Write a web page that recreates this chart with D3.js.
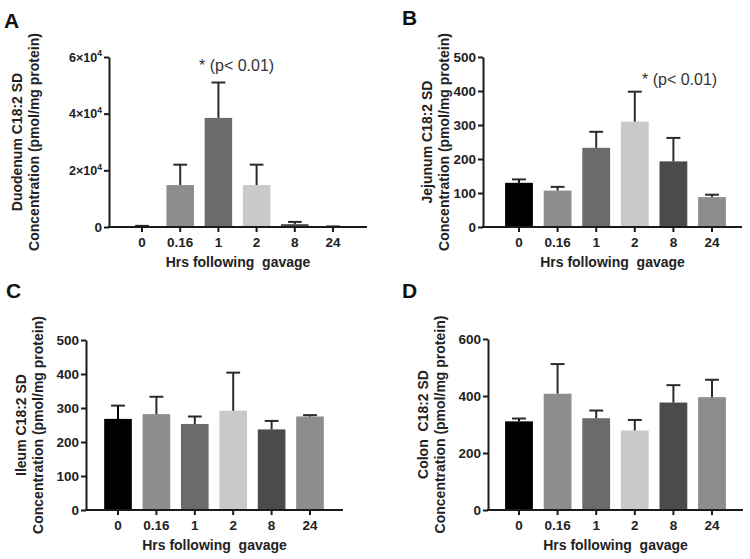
<!DOCTYPE html>
<html>
<head>
<meta charset="utf-8">
<script src="https://cdn.jsdelivr.net/npm/d3@7"></script>
<style>
  html, body { margin: 0; padding: 0; background: #fff; }
  svg { display: block; font-family: "Liberation Sans", Arial, sans-serif; }
</style>
</head>
<body>
<svg id="chart" width="750" height="559"></svg>
<script>
// ---------- data ----------
const categories = ["0", "0.16", "1", "2", "8", "24"];
const barColors = ["#000000", "#8d8d8d", "#6b6b6b", "#c9c9c9", "#4b4b4b", "#8d8d8d"];

const duodenumMean = [300, 14800, 38500, 14800, 1000, 150];
const duodenumSD   = [100, 7200, 12500, 7200, 800, 50];

const jejunumMean = [130, 107, 233, 310, 193, 88];
const jejunumSD   = [10, 11, 47, 88, 69, 7];

const ileumMean = [268, 282, 253, 292, 237, 275];
const ileumSD   = [39, 51, 22, 112, 25, 4];

const colonMean = [311, 408, 322, 279, 377, 396];
const colonSD   = [10, 104, 27, 37, 61, 61];

const duodenumTicks = [0, 20000, 40000, 60000];
const jejunumTicks = [0, 100, 200, 300, 400, 500];
const ileumTicks = [0, 100, 200, 300, 400, 500];
const colonTicks = [0, 200, 400, 600];

const xTitle = "Hrs following  gavage";
const sigText = "* (p< 0.01)";

// ---------- layout ----------
const panels = [
  { letter: "A", lx: 4, ly: 28, mean: duodenumMean, sd: duodenumSD, ticks: duodenumTicks, max: 60000, sci: true,
    x0: 109, x1: 367, yTop: 57, yBot: 227, c0: 142, c5: 333,
    lab1: "Duodenum C18:2 SD", lab2: "Concentration (pmol/mg protein)", lb1: 22, lb2: 39,
    sig: true, sigX: 199, sigY: 71 },
  { letter: "B", lx: 402, ly: 25, mean: jejunumMean, sd: jejunumSD, ticks: jejunumTicks, max: 500,
    x0: 483, x1: 742, yTop: 57, yBot: 227, c0: 519, c5: 712,
    lab1: "Jejunum C18:2 SD", lab2: "Concentration (pmol/mg protein)", lb1: 432, lb2: 449,
    sig: true, sigX: 642, sigY: 85 },
  { letter: "C", lx: 6, ly: 298, mean: ileumMean, sd: ileumSD, ticks: ileumTicks, max: 500,
    x0: 86, x1: 343, yTop: 340, yBot: 510, c0: 118, c5: 310,
    lab1: "Ileum C18:2 SD", lab2: "Concentration (pmol/mg protein)", lb1: 26, lb2: 43 },
  { letter: "D", lx: 402, ly: 298, mean: colonMean, sd: colonSD, ticks: colonTicks, max: 600,
    x0: 488, x1: 743, yTop: 339, yBot: 510, c0: 519, c5: 712,
    lab1: "Colon  C18:2 SD", lab2: "Concentration (pmol/mg protein)", lb1: 428, lb2: 445 }
];

const svg = d3.select("#chart");
const ink = "#1a1a1a";

panels.forEach(p => {
  const g = svg.append("g");
  const step = (p.c5 - p.c0) / 5;
  const x = d3.scaleBand().domain(categories)
    .range([p.c0 - step / 2, p.c5 + step / 2])
    .paddingInner(0.28).paddingOuter(0.14);
  const y = d3.scaleLinear().domain([0, p.max]).range([p.yBot, p.yTop]);

  const data = categories.map((c, i) => ({ c, m: p.mean[i], s: p.sd[i], col: barColors[i] }));

  // bars
  g.selectAll("rect.bar").data(data).enter().append("rect")
    .attr("class", "bar")
    .attr("x", d => x(d.c))
    .attr("width", x.bandwidth())
    .attr("y", d => y(d.m))
    .attr("height", d => Math.max(0, y(0) - y(d.m)))
    .attr("fill", d => d.col);

  // error bars
  const capW = x.bandwidth() * 0.5;
  const eb = g.selectAll("g.err").data(data).enter().append("g").attr("class", "err");
  eb.append("line")
    .attr("x1", d => x(d.c) + x.bandwidth() / 2)
    .attr("x2", d => x(d.c) + x.bandwidth() / 2)
    .attr("y1", d => y(d.m))
    .attr("y2", d => y(d.m + d.s))
    .attr("stroke", d => d.col === "#000000" ? "#000" : "#2a2a2a")
    .attr("stroke-width", 2);
  eb.append("line")
    .attr("x1", d => x(d.c) + x.bandwidth() / 2 - capW / 2)
    .attr("x2", d => x(d.c) + x.bandwidth() / 2 + capW / 2)
    .attr("y1", d => y(d.m + d.s))
    .attr("y2", d => y(d.m + d.s))
    .attr("stroke", "#2a2a2a")
    .attr("stroke-width", 2);

  // y axis
  const yAxis = d3.axisLeft(y).tickValues(p.ticks).tickSize(5).tickSizeOuter(0).tickPadding(2);
  const ya = g.append("g").attr("transform", `translate(${p.x0},0)`).call(yAxis);
  ya.select(".domain").attr("stroke", ink).attr("stroke-width", 2);
  ya.selectAll(".tick line").attr("stroke", ink).attr("stroke-width", 2);
  ya.selectAll(".tick text")
    .attr("fill", "#222").attr("font-size", 13.5).attr("font-weight", "bold")
    .attr("font-family", "Liberation Sans, Arial, sans-serif");
  if (p.sci) {
    ya.selectAll(".tick text").each(function(d) {
      const t = d3.select(this);
      t.text(null);
      if (d === 0) { t.text("0"); return; }
      t.attr("font-size", 12.5);
      t.append("tspan").text((d / 10000) + "×10");
      t.append("tspan").attr("font-size", 8.5).attr("dy", "-0.6em").text("4");
    });
  }

  // x axis
  const xAxis = d3.axisBottom(x).tickSize(5).tickSizeOuter(0).tickPadding(5);
  const xa = g.append("g").attr("transform", `translate(0,${p.yBot})`).call(xAxis);
  xa.select(".domain").remove();
  xa.append("line").attr("x1", p.x0 - 1).attr("x2", p.x1).attr("y1", 0).attr("y2", 0)
    .attr("stroke", ink).attr("stroke-width", 2);
  xa.selectAll(".tick line").attr("stroke", ink).attr("stroke-width", 2);
  xa.selectAll(".tick text")
    .attr("fill", "#222").attr("font-size", 13.5).attr("font-weight", "bold")
    .attr("font-family", "Liberation Sans, Arial, sans-serif");

  // x title
  g.append("text")
    .attr("x", (p.x0 + p.x1) / 2)
    .attr("y", p.yBot + 40)
    .attr("text-anchor", "middle")
    .attr("font-size", 14).attr("font-weight", "bold").attr("fill", "#222")
    .attr("xml:space", "preserve")
    .style("white-space", "pre")
    .text(xTitle);

  // y title (two lines)
  const cy = (p.yTop + p.yBot) / 2;
  [[p.lab1, p.lb1], [p.lab2, p.lb2]].forEach(([t, bx]) => {
    g.append("text")
      .attr("transform", `translate(${bx},${cy}) rotate(-90)`)
      .attr("text-anchor", "middle")
      .attr("font-size", 14).attr("font-weight", "bold").attr("fill", "#222")
      .style("white-space", "pre")
      .text(t);
  });

  // panel letter
  g.append("text")
    .attr("x", p.lx).attr("y", p.ly)
    .attr("font-size", 21).attr("font-weight", "bold").attr("fill", "#111")
    .text(p.letter);

  if (p.sig) {
    g.append("text")
      .attr("x", p.sigX).attr("y", p.sigY)
      .attr("font-size", 16).attr("fill", "#333")
      .text(sigText);
  }
});
</script>
</body>
</html>
